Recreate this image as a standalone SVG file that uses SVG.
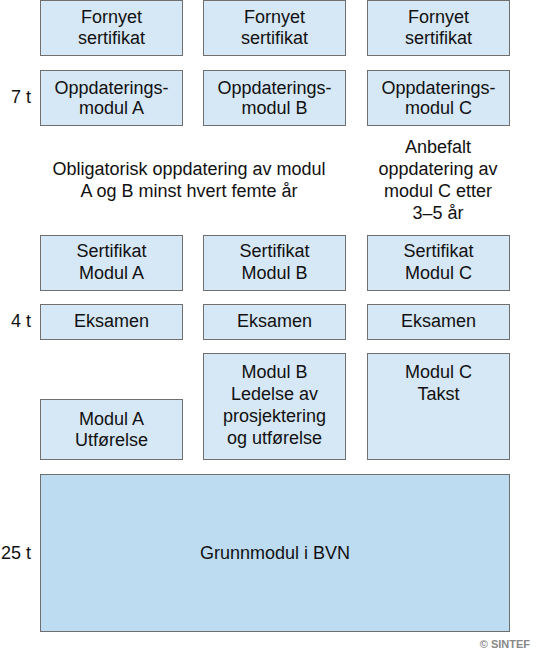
<svg xmlns="http://www.w3.org/2000/svg" width="542" height="657" viewBox="0 0 542 657">
<style>
.b{fill:#d6e7f5;stroke:#6f6f6f;stroke-width:1}
.g{fill:#bedcf1;stroke:#6f6f6f;stroke-width:1}
text{font-family:"Liberation Sans",Arial,sans-serif;font-size:18px;fill:#111;text-anchor:middle}
.l{text-anchor:end}
.c{font-size:11px;fill:#888;font-weight:bold;text-anchor:end}
</style>
<rect width="542" height="657" fill="#fff"/>
<g id="fornyetA"><rect class="b" x="40.5" y="0.5" width="142" height="55"/><text x="111.5" y="23">Fornyet</text><text x="111.5" y="44">sertifikat</text></g>
<g id="fornyetB"><rect class="b" x="203.5" y="0.5" width="142" height="55"/><text x="274.5" y="23">Fornyet</text><text x="274.5" y="44">sertifikat</text></g>
<g id="fornyetC"><rect class="b" x="367.5" y="0.5" width="142" height="55"/><text x="438.5" y="23">Fornyet</text><text x="438.5" y="44">sertifikat</text></g>
<g id="label7t"><text class="l" x="31" y="103">7 t</text></g>
<g id="oppdA"><rect class="b" x="40.5" y="70.5" width="142" height="55"/><text x="111.5" y="94">Oppdaterings-</text><text x="111.5" y="114">modul A</text></g>
<g id="oppdB"><rect class="b" x="203.5" y="70.5" width="142" height="55"/><text x="274.5" y="94">Oppdaterings-</text><text x="274.5" y="114">modul B</text></g>
<g id="oppdC"><rect class="b" x="367.5" y="70.5" width="142" height="55"/><text x="438.5" y="94">Oppdaterings-</text><text x="438.5" y="114">modul C</text></g>
<g id="obligatorisk"><text x="189" y="175" font-size="17.6">Obligatorisk oppdatering av modul</text><text x="189" y="197" font-size="17.6">A og B minst hvert femte år</text></g>
<g id="anbefalt"><text x="438" y="153">Anbefalt</text><text x="438" y="175">oppdatering av</text><text x="438" y="197">modul C etter</text><text x="438" y="219">3–5 år</text></g>
<g id="sertA"><rect class="b" x="40.5" y="235.5" width="142" height="55"/><text x="111.5" y="257">Sertifikat</text><text x="111.5" y="279">Modul A</text></g>
<g id="sertB"><rect class="b" x="203.5" y="235.5" width="142" height="55"/><text x="274.5" y="257">Sertifikat</text><text x="274.5" y="279">Modul B</text></g>
<g id="sertC"><rect class="b" x="367.5" y="235.5" width="142" height="55"/><text x="438.5" y="257">Sertifikat</text><text x="438.5" y="279">Modul C</text></g>
<g id="label4t"><text class="l" x="31" y="327">4 t</text></g>
<g id="eksA"><rect class="b" x="40.5" y="304.5" width="142" height="35"/><text x="111.5" y="327">Eksamen</text></g>
<g id="eksB"><rect class="b" x="203.5" y="304.5" width="142" height="35"/><text x="274.5" y="327">Eksamen</text></g>
<g id="eksC"><rect class="b" x="367.5" y="304.5" width="142" height="35"/><text x="438.5" y="327">Eksamen</text></g>
<g id="modulA"><rect class="b" x="40.5" y="399.5" width="142" height="60"/><text x="111.5" y="425">Modul A</text><text x="111.5" y="446">Utførelse</text></g>
<g id="modulB"><rect class="b" x="203.5" y="353.5" width="142" height="106"/><text x="274.5" y="378">Modul B</text><text x="274.5" y="400">Ledelse av</text><text x="274.5" y="422">prosjektering</text><text x="274.5" y="444">og utførelse</text></g>
<g id="modulC"><rect class="b" x="367.5" y="353.5" width="142" height="106"/><text x="438.5" y="378">Modul C</text><text x="438.5" y="400">Takst</text></g>
<g id="label25t"><text class="l" x="31" y="559">25 t</text></g>
<g id="grunnmodul"><rect class="g" x="40.5" y="474.5" width="469" height="157"/><text x="275" y="559">Grunnmodul i BVN</text></g>
<g id="connectors"></g>
<text class="c" x="530" y="648">© SINTEF</text>
</svg>
